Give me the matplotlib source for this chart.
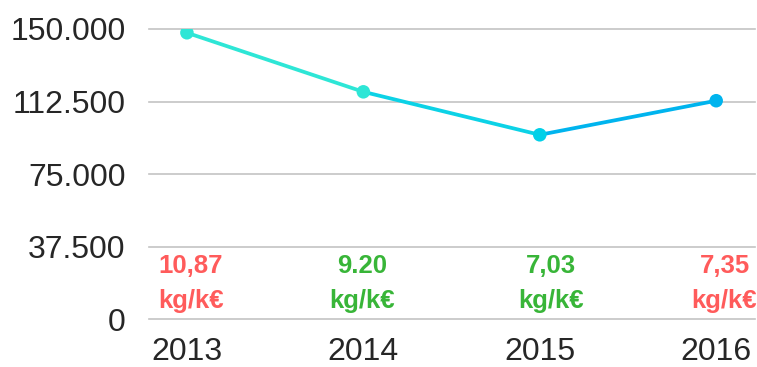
import numpy as np
import matplotlib.pyplot as plt
from matplotlib.ticker import FuncFormatter

plt.rcParams['font.family'] = ['Liberation Sans', 'DejaVu Sans']

# -- data
years = ['2013', '2014', '2015', '2016']
totals = [148000, 117500, 95300, 112900]
ratio_labels = ['10,87', '9.20', '7,03', '7,35']
ratio_colors = ['#ff5b5b', '#38b538', '#38b538', '#ff5b5b']
y_ticks = [0, 37500, 75000, 112500, 150000]

# colours running from teal to blue along the line
segment_colors = ['#2ee6d6', '#0cd2e6', '#00b4ee']
point_colors = ['#2ee6d6', '#2ee6d6', '#00d0e8', '#00b4ee']
# small horizontal nudges (points) of the ratio labels
label_shift = [3, -1, 8, 6]

fig = plt.figure(figsize=(7.57, 3.67), dpi=100)
ax = fig.add_axes([149 / 757, 47.7 / 367, 606 / 757, 290.4 / 367])

x = np.arange(len(years))
for i in range(len(x) - 1):
    ax.plot(x[i:i + 2], totals[i:i + 2], color=segment_colors[i], lw=2.7,
            solid_capstyle='round', zorder=3)
ax.scatter(x, totals, s=95, c=point_colors, zorder=4, linewidths=0)

for i, (lab, col) in enumerate(zip(ratio_labels, ratio_colors)):
    ax.annotate(lab, (x[i], 27300), xytext=(label_shift[i], 0), textcoords='offset points',
                ha='center', va='center', fontsize=18.5, fontweight='bold', color=col)
    ax.annotate('kg/k€', (x[i], 9600), xytext=(label_shift[i], 0), textcoords='offset points',
                ha='center', va='center', fontsize=18.5, fontweight='bold', color=col,
                annotation_clip=False)

ax.set_xlim(-0.215, 3.22)
ax.set_ylim(0, 150000)
ax.set_xticks(x)
ax.set_xticklabels(years)
ax.set_yticks(y_ticks)
ax.yaxis.set_major_formatter(FuncFormatter(lambda v, p: f'{int(v):,}'.replace(',', '.')))
ax.tick_params(axis='both', length=0, labelsize=23, labelcolor='#262626')
ax.tick_params(axis='y', pad=17)
ax.tick_params(axis='x', pad=13)

ax.grid(axis='y', color='#c4c4c4', lw=1.2)
for gl in ax.get_ygridlines():
    gl.set_clip_on(False)
ax.set_axisbelow(True)
for s in ax.spines.values():
    s.set_visible(False)

fig.savefig('out.png', dpi=100)
